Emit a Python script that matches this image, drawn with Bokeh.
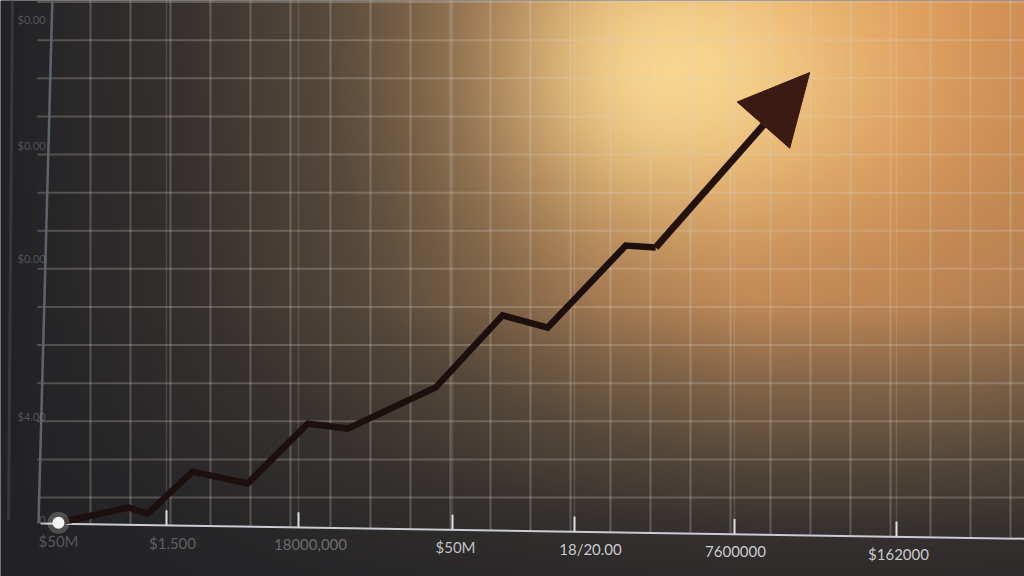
import numpy as np
from bokeh.plotting import figure
from bokeh.models import Arrow, NormalHead, Range1d
from bokeh.core.properties import value
from bokeh.embed import file_html
from bokeh.resources import INLINE

# ---------------- data ----------------
period = [0.2, 1.95, 2.43, 3.55, 4.93, 6.43, 7.43, 9.63, 11.3, 12.43, 14.38, 15.13]
level = [-0.66, -0.26, -0.42, 0.68, 0.37, 1.94, 1.81, 2.89, 4.78, 4.46, 6.61, 6.56]
arrow_tip_x = 18.98
arrow_tip_y = 11.15

x_tick_pos = [2.9, 6.2, 10.05, 13.1, 17.1, 21.15]
x_label_pos = [0.2, 3.05, 6.5, 10.125, 13.5, 17.125, 21.2]
x_labels = ["$50M", "$1.500", "18000,000", "$50M", "18/20.00", "7600000", "$162000"]
x_label_alpha = [0.3, 0.35, 0.4, 0.9, 0.95, 0.95, 0.95]

y_label_pos = [12.55, 9.24, 6.27, 2.13, -0.6]
y_labels = ["$0.00", "$0.00", "$0.00", "$4.00", "0"]

grid_cols = list(range(1, 25))
grid_rows = list(range(0, 14))

# ---------------- layout ----------------
W_PX, H_PX = 1024, 576
X0, X1 = -1.25, 24.35
Y0, Y1 = -2.07, 13.04

p = figure(width=W_PX, height=H_PX, x_range=Range1d(X0, X1), y_range=Range1d(Y0, Y1),
           toolbar_location=None, output_backend="svg", min_border=0)
p.axis.visible = False
p.grid.visible = False
p.outline_line_color = None
p.background_fill_color = "#232427"
p.border_fill_color = "#232427"

# background lighting (styling only)
W, H = 512, 288
px = (np.arange(W) + 0.5) * 2
py = (np.arange(H) + 0.5) * 2
XX, YY = np.meshgrid(px, py)
fxv = np.interp(XX, [0, 150, 300, 450, 600, 750, 900, 1024], [0.0, 0.12, 0.28, 0.45, 0.62, 0.72, 0.72, 0.68])
gyv = np.interp(YY, [0, 150, 300, 450, 530, 576], [1.0, 0.95, 0.85, 0.45, 0.2, 0.12])
L = fxv * gyv
Ls = [0.0, 0.15, 0.3, 0.45, 0.6, 0.75]
R = np.interp(L, Ls, [34, 55, 85, 130, 185, 225])
G = np.interp(L, Ls, [34, 50, 72, 100, 130, 148])
B = np.interp(L, Ls, [37, 48, 58, 72, 82, 80])
dxh = XX - 670.0
sx = np.where(dxh > 0, 220.0, 160.0)
w = 0.9 * np.exp(-((dxh / sx) ** 2 + ((YY - 70.0) / 150.0) ** 2))
R = R + w * (253 - R)
G = G + w * (222 - G)
B = B + w * (150 - B)
img = (R.astype(np.uint32) | (G.astype(np.uint32) << 8) | (B.astype(np.uint32) << 16)
       | (np.uint32(255) << 24)).astype(np.uint32)
img = np.flipud(img)
p.image_rgba(image=[img], x=X0, y=Y0, dw=X1 - X0, dh=Y1 - Y0)

# baseline geometry (slight perspective tilt)
bx0, by0, bx1, by1 = -0.25, -0.68, 24.4, -1.08
def base_y(g):
    return by0 + (g - bx0) * (by1 - by0) / (bx1 - bx0)

# grid lines
p.segment(x0=[-0.33] * len(grid_rows), y0=grid_rows, x1=[X1] * len(grid_rows), y1=grid_rows,
          line_color="#d8d2c6", line_alpha=0.26, line_width=2)
p.segment(x0=grid_cols, y0=[base_y(g) for g in grid_cols], x1=grid_cols, y1=[13.2] * len(grid_cols),
          line_color="#d8d2c6", line_alpha=0.26, line_width=2)
p.segment(x0=x_tick_pos, y0=[base_y(g) for g in x_tick_pos], x1=x_tick_pos, y1=[13.2] * len(x_tick_pos),
          line_color="#f0ece4", line_alpha=0.14, line_width=1.5)

# axes lines
p.segment(x0=[-0.95], y0=[13.2], x1=[-1.05], y1=[-0.6], line_color="#3c424b", line_width=3, line_alpha=0.7)
p.segment(x0=[0.05], y0=[13.2], x1=[-0.3], y1=[-0.68], line_color="#5d646e", line_width=2.5)
p.segment(x0=[bx0], y0=[by0], x1=[bx1], y1=[by1], line_color="#c9ccd2", line_width=2)

# tick marks
p.segment(x0=x_tick_pos, y0=[base_y(g) for g in x_tick_pos], x1=x_tick_pos,
          y1=[base_y(g) + 0.4 for g in x_tick_pos], line_color="#dcdee3", line_width=2)

# tick labels
p.text(x=x_label_pos, y=[base_y(g) for g in x_label_pos], text=x_labels, text_align="center",
       text_baseline="middle", y_offset=17, text_font=value("Lato"), text_font_size="15px",
       text_color="#d6d7db", text_alpha=x_label_alpha)
p.text(x=[-0.12] * len(y_labels), y=y_label_pos, text=y_labels, text_align="right",
       text_baseline="middle", text_font=value("Lato"), text_font_size="11px",
       text_color="#7f8792", text_alpha=0.5)

# main line
p.line(period, level, line_width=6.5, line_color="#1c0f0d", line_join="miter")
p.add_layout(Arrow(end=NormalHead(size=70, fill_color="#3a1a12", line_color="#3a1a12"),
                   x_start=period[-1], y_start=level[-1], x_end=arrow_tip_x, y_end=arrow_tip_y,
                   line_width=7, line_color="#24120f"))

# start dot
p.scatter([period[0]], [level[0]], size=22, fill_color="white", fill_alpha=0.2, line_color=None)
p.scatter([period[0]], [level[0]], size=12, fill_color="#f4f4f4", line_color=None)

open("out.html", "w").write(file_html(p, INLINE))
